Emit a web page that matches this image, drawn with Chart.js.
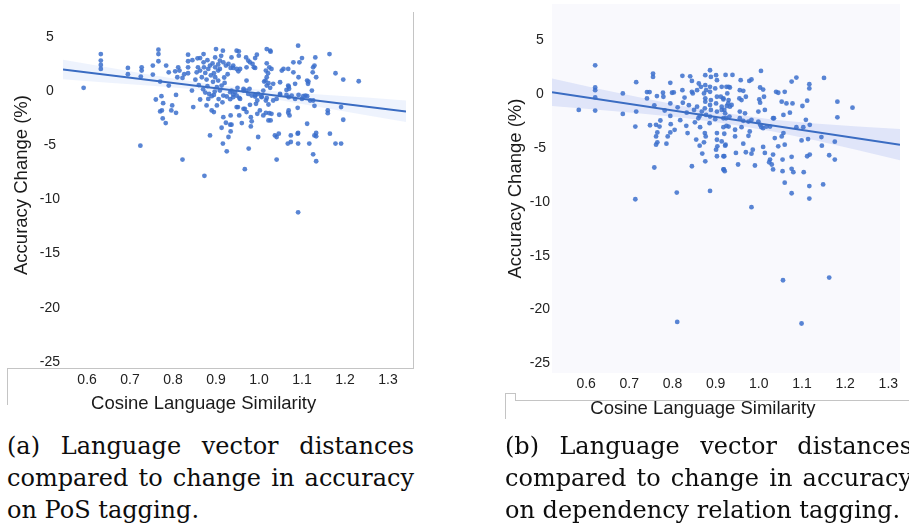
<!DOCTYPE html>
<html><head><meta charset="utf-8">
<script src="https://cdn.jsdelivr.net/npm/chart.js@4.4.1/dist/chart.umd.min.js"></script>
<style>
html,body{margin:0;padding:0;background:#fff;width:909px;height:527px;overflow:hidden;position:relative}
canvas{position:absolute;top:0}
.ln{position:absolute;background:#c4c4c4}
.cap{position:absolute;top:430px;width:407px;font-family:"DejaVu Serif",serif;font-size:24px;line-height:32px;color:#0d0d0d;white-space:nowrap}
.cap .j{display:block;text-align:justify;text-align-last:justify}
.cap .l{display:block;text-align:left}
</style></head>
<body>
<canvas id="ca" width="420" height="420" style="left:0"></canvas>
<canvas id="cb" width="420" height="420" style="left:489px"></canvas>
<div class="ln" style="left:413px;top:12px;width:1px;height:356px"></div>
<div class="ln" style="left:7px;top:368px;width:407px;height:1px"></div>
<div class="ln" style="left:7px;top:368px;width:1px;height:37px"></div>
<div class="ln" style="left:505px;top:393px;width:1px;height:26px"></div>
<div class="ln" style="left:505px;top:393px;width:10px;height:1px"></div>
<div class="ln" style="left:515px;top:393px;width:1px;height:7px"></div>
<div class="ln" style="left:515px;top:400px;width:394px;height:1px"></div>
<div class="cap" style="left:7px"><span class="j">(a) Language vector distances</span><span class="j">compared to change in accuracy</span><span class="l">on PoS tagging.</span></div>
<div class="cap" style="left:505px"><span class="j">(b) Language vector distances</span><span class="j">compared to change in accuracy</span><span class="l">on dependency relation tagging.</span></div>
<script>
const xTicks = [0.6,0.7,0.8,0.9,1.0,1.1,1.2,1.3];
const yTicks = [5,0,-5,-10,-15,-20,-25];
const xTitle = "Cosine Language Similarity";
const yTitle = "Accuracy Change (%)";

// (a) PoS tagging
const simA = [
0.592,0.632,0.632,0.632,0.632,0.695,0.695,0.727,0.727,0.725,
0.724,0.753,0.753,0.766,0.766,0.766,0.760,0.770,0.773,0.777,
0.774,0.770,0.776,0.783,0.784,0.790,0.790,0.798,0.796,0.807,
0.807,0.812,0.815,0.805,0.810,0.822,0.822,0.835,0.835,0.835,
0.835,0.847,0.844,0.857,0.863,0.871,0.858,0.855,0.863,0.871,
0.872,0.875,0.867,0.878,0.882,0.886,0.863,0.878,0.882,0.886,
0.873,0.884,0.890,0.895,0.890,0.902,0.895,0.900,0.916,0.898,
0.909,0.917,0.923,0.929,0.934,0.940,0.898,0.905,0.909,0.898,
0.905,0.913,0.902,0.909,0.917,0.925,0.933,0.940,0.933,0.917,
0.923,0.933,0.934,0.929,0.916,0.925,0.913,0.948,0.953,0.956,
0.950,0.951,0.954,0.954,0.964,0.967,0.971,0.975,0.971,0.978,
0.967,0.976,0.981,0.981,0.985,0.988,0.991,0.995,0.991,0.996,
1.002,0.998,1.006,1.010,1.015,1.018,1.016,1.018,1.018,1.026,
1.021,1.022,1.026,1.016,1.022,1.024,1.027,1.041,1.046,1.041,
1.049,1.049,1.053,1.057,1.064,1.069,1.069,1.069,1.071,1.067,
1.074,1.080,1.080,1.084,1.084,1.091,1.094,1.092,1.091,1.091,
1.091,1.100,1.100,1.108,1.112,1.117,1.114,1.112,1.125,1.129,
1.131,1.123,1.126,1.129,1.129,1.133,1.133,1.126,1.164,1.160,
1.160,1.165,1.178,1.178,1.191,1.191,1.196,1.196,1.232,
0.953,1.027,0.970,0.979,0.991,0.936,0.940,0.948,0.952,1.024,
1.029,1.068,1.126,1.133,1.012,1.033,1.018,1.068,1.070,1.115,
0.936,0.944,0.948,0.940,0.956,0.964,0.970,0.975,0.983,0.991,
0.998,1.006,1.018,1.033,1.041,1.049,1.064,1.076,1.092,1.103,
1.112,1.119,0.948,0.964,0.971,0.979,0.993,0.996,1.010,1.016,
1.022,1.029,1.047,1.068,1.090,0.934,0.936,0.960,0.983,1.037,
1.074,1.090,1.133,0.880,0.892,0.895,0.888,0.893,0.880,0.870,
0.860,0.875,0.897,0.906,0.915,0.920,0.927,0.919,0.905,0.912,
0.845,0.826,0.852];
const accA = [
0.34,3.47,2.86,2.46,2.09,2.18,1.60,2.24,1.94,1.38,
-5.01,2.40,1.57,3.87,3.47,2.80,-0.74,0.92,-0.43,-1.08,
-1.75,-1.84,-2.49,-2.92,2.40,1.78,0.55,-1.29,-1.75,-0.31,
-1.97,2.24,1.94,1.87,1.32,1.26,-6.30,3.41,2.80,2.24,
1.69,-1.44,0.09,3.07,3.10,3.47,2.24,1.78,1.94,2.70,
2.24,1.72,1.32,1.11,2.09,2.40,-0.74,-1.29,-0.68,-4.06,
-7.80,-0.22,-0.43,-0.31,-1.75,-1.29,-1.90,3.93,3.78,3.16,
2.86,2.70,2.40,2.55,2.18,2.40,2.24,1.94,2.09,1.32,
1.01,0.55,0.40,0.09,-0.37,-0.46,-0.06,-0.28,-0.71,-2.37,
-2.89,-3.07,-3.69,-4.21,-4.82,-5.53,-3.35,3.78,3.32,2.09,
0.34,-1.44,-0.58,-2.21,0.09,-1.60,2.24,2.86,1.01,0.25,
-7.19,-5.28,-3.23,-2.37,2.55,2.24,3.10,3.41,-0.34,-0.83,
-1.75,-4.21,-0.52,0.09,1.01,1.32,1.94,2.61,3.93,3.78,
1.69,0.77,0.34,-0.83,-1.20,-2.00,-2.67,-4.21,-3.90,-6.30,
-0.22,0.86,1.94,2.09,0.15,0.46,-0.52,-1.75,-2.21,-4.82,
-4.67,1.78,2.70,0.71,-0.68,4.24,2.70,1.32,-11.18,-3.84,
-4.82,3.10,-0.68,-0.37,-2.98,-4.82,0.71,1.01,1.78,2.40,
3.16,0.09,-0.83,-1.32,-4.06,-3.84,-6.45,-5.81,3.47,-1.75,
-2.00,-3.90,1.69,-4.82,-4.82,-1.44,-2.61,1.11,0.95,
3.72,3.69,3.16,2.70,2.18,3.16,2.18,2.09,1.87,2.24,
2.09,2.09,2.24,1.32,0.92,0.71,0.55,0.55,0.25,0.92,
0.09,-0.06,-0.37,-0.52,-0.68,0.25,0.09,-0.22,-0.37,-0.46,
-0.22,-0.46,-0.61,-0.83,-0.68,-0.31,-0.31,-0.37,-0.31,-0.43,
-0.43,-0.83,-1.44,-1.60,-1.90,-1.23,-1.14,-2.06,-2.21,-1.97,
-2.67,-2.06,-2.15,-1.97,-1.51,-2.21,-3.07,-2.92,-2.76,-4.06,
-4.06,-3.90,-4.15,2.90,2.60,1.70,1.50,0.90,0.50,0.20,
0.60,-0.10,0.00,-0.70,-1.00,0.80,1.60,1.30,2.50,3.30,
2.90,1.60,1.10];
const fitXA = [0.544,1.342];
const fitYA = [2.03,-1.85];
const bandXA = [0.544,0.65,0.75,0.85,0.95,1.05,1.15,1.25,1.342];
const bandUpA = [2.93,2.22,1.54,0.91,0.37,-0.01,-0.29,-0.56,-0.83];
const bandLoA = [1.13,0.82,0.54,0.21,-0.23,-0.81,-1.49,-2.20,-2.83];

// (b) dependency relation tagging
const simB = [
0.621,0.621,0.621,0.621,0.621,0.583,0.685,0.685,0.716,0.716,
0.714,0.714,0.741,0.747,0.741,0.755,0.755,0.748,0.758,0.764,
0.778,0.779,0.762,0.765,0.762,0.765,0.762,0.758,0.772,0.770,
0.786,0.789,0.795,0.799,0.795,0.795,0.796,0.795,0.803,0.810,
0.823,0.823,0.824,0.833,0.832,0.845,0.841,0.845,0.845,0.847,
0.850,0.857,0.860,0.863,0.864,0.857,0.861,0.866,0.863,0.876,
0.876,0.873,0.878,0.876,0.876,0.875,0.878,0.875,0.877,0.873,
0.876,0.887,0.889,0.887,0.887,0.889,0.887,0.889,0.887,0.886,
0.887,0.901,0.903,0.899,0.903,0.901,0.903,0.899,0.903,0.903,
0.904,0.901,0.903,0.914,0.912,0.918,0.914,0.920,0.918,0.918,
0.920,0.923,0.920,0.918,0.921,0.930,0.927,0.930,0.926,0.932,
0.930,0.812,0.818,0.828,0.838,0.852,0.868,0.782,0.805,0.835,
0.855,0.869,0.923,0.939,1.005,0.958,0.978,0.983,0.925,0.933,
0.956,0.964,0.970,1.003,1.010,1.012,1.040,1.045,1.060,1.076,
1.087,1.117,1.117,1.151,0.918,0.929,0.937,0.955,0.960,1.001,
1.003,1.053,1.064,1.078,1.101,1.112,0.914,0.922,0.933,0.956,
0.968,0.999,1.014,1.033,1.057,1.072,1.182,1.217,0.924,0.956,
0.964,0.976,0.983,0.999,1.003,1.010,1.026,1.035,1.087,1.103,
1.109,1.118,1.182,0.925,0.945,0.960,0.979,1.006,1.018,1.037,
1.053,1.057,0.914,0.922,0.945,0.964,0.976,0.986,1.010,1.014,
1.045,1.060,1.099,1.114,1.145,1.176,1.146,0.918,0.947,0.970,
0.983,1.026,1.033,1.055,1.076,1.112,1.118,1.163,1.176,0.919,
0.952,0.991,1.024,1.030,1.033,1.055,1.076,1.080,1.104,1.060,
1.117,1.149,1.076,1.117,0.811,0.983,1.056,1.099,1.163];
const accB = [
2.70,0.64,0.39,-0.28,-1.51,-1.45,0.09,-1.82,1.13,-1.60,
-2.99,-9.75,0.21,0.21,-0.38,1.93,1.62,-2.87,-1.02,-0.16,
0.15,-0.22,-2.83,-3.54,-3.91,-4.46,-4.68,-6.80,-2.43,-2.99,
-4.58,-3.91,1.07,0.15,-0.84,-2.00,-2.77,-3.54,0.18,-9.13,
1.72,0.39,-0.78,-1.70,-2.92,-6.68,1.68,1.25,0.24,0.09,
-1.45,-1.14,-2.22,-2.00,-3.05,0.39,1.01,0.70,-4.77,1.78,
0.85,0.09,0.39,-0.37,-0.68,-1.30,-1.91,-3.60,-3.91,-4.46,
-6.22,2.24,1.62,0.70,0.24,-0.53,-0.99,-1.45,-2.06,-2.68,
-8.98,1.78,1.32,0.55,-0.22,-0.84,-1.60,-2.31,-3.60,-4.22,
-4.83,-5.14,-5.75,0.70,-0.22,-0.37,-1.14,-1.45,-2.22,-3.05,
-3.66,-4.68,-5.75,-6.98,-7.14,0.70,0.09,-0.53,-1.08,-2.06,
-2.99,-1.20,-2.40,-0.30,-1.00,-2.60,-1.60,-1.50,-3.30,-3.60,
-4.20,-5.50,1.81,1.81,2.18,1.32,1.25,1.38,0.70,0.64,
0.39,0.33,-0.22,0.64,0.45,-0.22,0.24,0.15,0.24,1.19,
1.56,0.95,0.55,1.53,-0.47,-0.84,-0.99,-0.38,-0.53,-0.47,
-0.77,-0.68,-0.84,-0.84,-1.08,-0.59,-1.45,-1.76,-1.14,-1.60,
-1.76,-1.60,-1.45,-2.22,-1.91,-1.70,-0.68,-1.24,-2.22,-2.22,
-2.46,-2.53,-2.37,-2.53,-2.83,-3.14,-2.99,-2.22,-3.05,-3.05,
-2.37,-2.83,-2.13,-2.93,-3.29,-3.05,-3.45,-3.05,-2.99,-4.06,
-3.91,-3.60,-4.37,-4.77,-3.91,-4.58,-3.85,-5.14,-4.89,-5.44,
-4.83,-4.68,-4.28,-4.16,-3.97,-4.40,-4.77,-5.75,-5.44,-5.38,
-5.51,-6.06,-5.60,-6.06,-5.81,-5.75,-5.60,-5.66,-6.06,-6.98,
-6.52,-6.61,-6.31,-6.52,-6.98,-7.14,-6.92,-7.23,-7.23,-8.21,
-8.52,-8.37,-9.19,-9.69,-21.15,-10.49,-17.28,-21.30,-17.03];
const fitXB = [0.521,1.327];
const fitYB = [0.20,-4.68];
const bandXB = [0.521,0.62,0.72,0.82,0.93,1.03,1.13,1.23,1.327];
const bandUpB = [1.48,0.60,-0.25,-1.06,-1.79,-2.33,-2.70,-2.99,-3.23];
const bandLoB = [-1.08,-1.40,-1.75,-2.16,-2.75,-3.43,-4.26,-5.19,-6.13];

const FONT = '"Liberation Sans", Arial, Helvetica, sans-serif';
const pts = (xs, ys) => xs.map((x, i) => ({x, y: ys[i]}));

const bgPlugin = {
  id: 'plotBg',
  beforeDraw(chart, args, opts) {
    if (!opts || !opts.color) return;
    const a = chart.chartArea, ctx = chart.ctx;
    ctx.save(); ctx.fillStyle = opts.color;
    ctx.fillRect(a.left, a.top, a.right - a.left, a.bottom - a.top);
    ctx.restore();
  }
};

function build(id, s) {
  return new Chart(document.getElementById(id), {
    type: 'scatter',
    data: {
      datasets: [
        {type: 'line', data: pts(s.bandX, s.bandUp), fill: '+1', backgroundColor: s.bandColor,
         borderWidth: 0, pointRadius: 0, order: 3},
        {type: 'line', data: pts(s.bandX, s.bandLo), fill: false,
         borderWidth: 0, pointRadius: 0, order: 3},
        {type: 'scatter', data: pts(s.sim, s.acc), backgroundColor: 'rgba(60,112,204,0.85)',
         borderWidth: 0, pointRadius: 2.4, order: 2},
        {type: 'line', data: pts(s.fitX, s.fitY), borderColor: '#3a6cc2', borderWidth: 2,
         pointRadius: 0, fill: false, order: 1}
      ]
    },
    options: {
      responsive: false, animation: false, events: [],
      layout: {padding: {left: 0, right: s.padRight, top: 0, bottom: 0}},
      plugins: {legend: {display: false}, tooltip: {enabled: false}, plotBg: {color: s.bg}},
      scales: {
        x: {
          type: 'linear', min: s.xMin, max: s.xMax,
          grid: {display: false, drawTicks: false}, border: {display: false},
          afterBuildTicks: sc => { sc.ticks = xTicks.map(v => ({value: v})); },
          afterFit: sc => { sc.height = s.xAxisH; sc.paddingLeft = 0; sc.paddingRight = 0; },
          ticks: {autoSkip: false, maxRotation: 0, padding: s.xTickPad, color: '#222',
                  font: {family: FONT, size: 14}, callback: v => Number(v).toFixed(1)},
          title: {display: true, text: xTitle + ' '.repeat(s.titleShift), color: '#1a1a1a',
                  font: {family: FONT, size: 18.5}, padding: {top: 0, bottom: s.xTitlePad}}
        },
        y: {
          type: 'linear', min: s.yMin, max: s.yMax,
          grid: {display: false, drawTicks: false}, border: {display: false},
          afterBuildTicks: sc => { sc.ticks = yTicks.map(v => ({value: v})); },
          afterFit: sc => { sc.width = 63; sc.paddingTop = 0; sc.paddingBottom = 0; },
          ticks: {crossAlign: 'center', padding: s.yTickPad, color: '#222',
                  font: {family: FONT, size: 14}, callback: v => String(v)},
          title: {display: true, text: yTitle, color: '#1a1a1a',
                  font: {family: FONT, size: 18.5}, padding: {top: s.yTitlePad, bottom: 0}}
        }
      }
    },
    plugins: [bgPlugin]
  });
}

build('ca', {sim: simA, acc: accA, fitX: fitXA, fitY: fitYA, bandX: bandXA, bandUp: bandUpA, bandLo: bandLoA,
  bandColor: 'rgba(90,140,235,0.10)', bg: null, padRight: 14, titleShift: 12,
  xMin: 0.544, xMax: 1.342, yMin: -25.4, yMax: 8.1,
  xAxisH: 54, xTickPad: 6, xTitlePad: 5, yTickPad: 3, yTitlePad: 11});
build('cb', {sim: simB, acc: accB, fitX: fitXB, fitY: fitYB, bandX: bandXB, bandUp: bandUpB, bandLo: bandLoB,
  bandColor: 'rgba(75,115,225,0.14)', bg: '#f9f9fd', padRight: 9, titleShift: 9,
  xMin: 0.521, xMax: 1.327, yMin: -25.9, yMax: 8.4,
  xAxisH: 47, xTickPad: 3, xTitlePad: 0, yTickPad: 2, yTitlePad: 16});
</script>
</body></html>
